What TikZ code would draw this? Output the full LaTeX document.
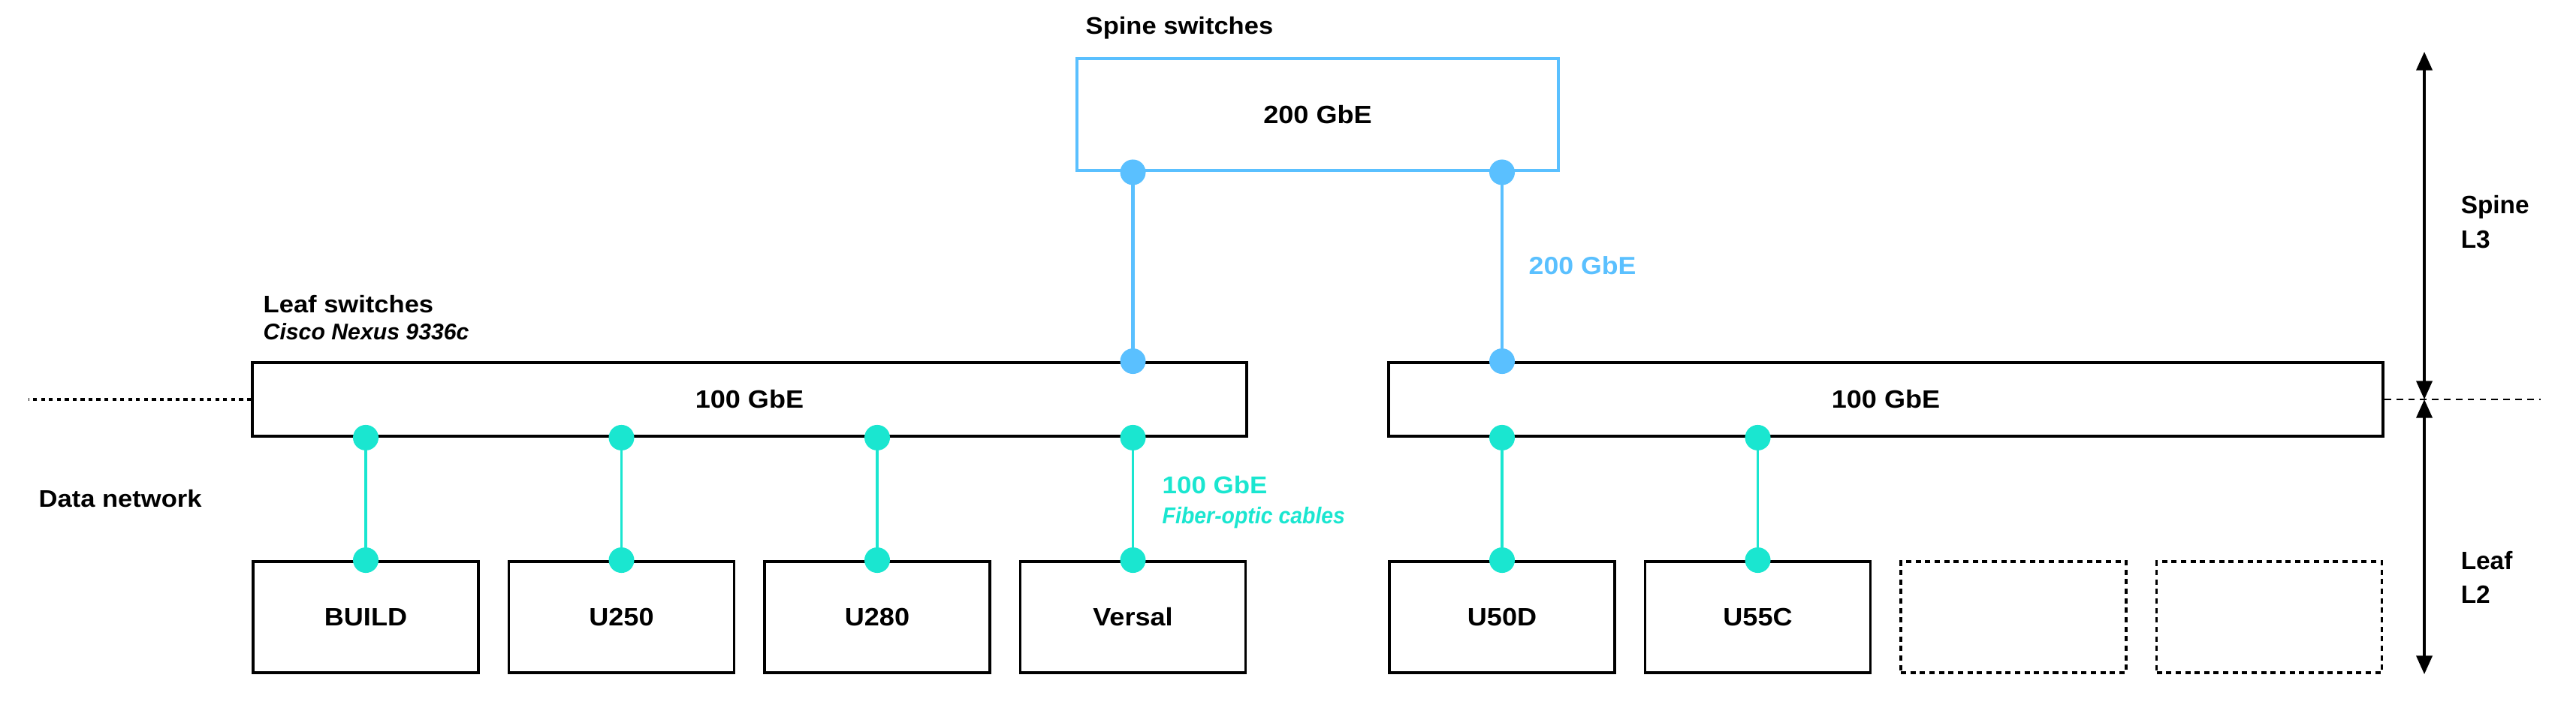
\documentclass[tikz,border=0pt]{standalone}
\usepackage{fontspec}
\setmainfont{Liberation Sans}[FakeStretch=1.08]
\newfontfamily\fiberit{Liberation Sans}[FakeStretch=0.93]
\newfontfamily\plainsans{Liberation Sans}
\usetikzlibrary{arrows.meta}
\definecolor{spineblue}{RGB}{90,192,255}
\definecolor{leafteal}{RGB}{26,230,208}

\begin{document}
\begin{tikzpicture}[
    switchbox/.style={draw, line width=1.1pt, minimum height=0.98cm, minimum width=13.24cm, inner sep=0pt, font=\fontsize{9.5}{11}\selectfont\bfseries},
    fpgabox/.style={draw, line width=1.1pt, minimum height=1.48cm, minimum width=3cm, inner sep=0pt, font=\fontsize{9.5}{11}\selectfont\bfseries},
    emptybox/.style={fpgabox, line width=0.9pt, dash pattern=on 2pt off 1.6pt},
    title/.style={anchor=base west, inner sep=0pt, font=\fontsize{9.1}{11}\selectfont\bfseries},
    bluedot/.style={circle, fill=spineblue, minimum size=0.34cm, inner sep=0pt},
    tealdot/.style={circle, fill=leafteal, minimum size=0.34cm, inner sep=0pt},
    bluewire/.style={spineblue, line width=1.4pt},
    tealwire/.style={leafteal, line width=0.9pt},
    layer/.style={line width=1pt, {Triangle[width=6pt,length=7pt]}-{Triangle[width=6pt,length=7pt]}},
    dotline/.style={line width=1pt, dash pattern=on 1.5pt off 1.5pt},
    dashline/.style={line width=0.8pt, dash pattern=on 2.5pt off 2pt}
  ]
  \useasboundingbox (0,0) rectangle (34.30,9.66);

  % switches
  \node[switchbox, draw=spineblue, line width=1.4pt, minimum width=6.41cm, minimum height=1.49cm] (spine) at (17.545,8.135) {200 GbE};
  \node[switchbox] (leafA) at (9.98,4.34) {100 GbE};
  \node[switchbox] (leafB) at (25.11,4.34) {100 GbE};

  % boards
  \foreach \name/\x/\lbl in {build/4.87/BUILD, uA/8.275/U250, uB/11.68/U280, versal/15.085/Versal, uC/20.00/U50D, uD/23.405/U55C}
    \node[fpgabox] (\name) at (\x,1.44) {\lbl};
  \node[emptybox] (spareA) at (26.81,1.44) {};
  \node[emptybox] (spareB) at (30.215,1.44) {};

  % leaf to board cables
  \foreach \leaf/\name in {leafA/build, leafA/uA, leafA/uB, leafA/versal, leafB/uC, leafB/uD} {
    \draw[tealwire] (\leaf.south -| \name.north) -- (\name.north);
    \node[tealdot] (\name-up) at (\leaf.south -| \name.north) {};
    \node[tealdot] (\name-down) at (\name.north) {};
  }

  % spine to leaf cables
  \foreach \leaf/\name in {leafA/versal, leafB/uC} {
    \draw[bluewire] (spine.south -| \name.north) -- (\leaf.north -| \name.north);
    \node[bluedot] (\name-spine) at (spine.south -| \name.north) {};
    \node[bluedot] (\name-leaf) at (\leaf.north -| \name.north) {};
  }

  % labels
  \node[title] (spinetitle) at (14.45,9.20) {Spine switches};
  \node[title] (leaftitle) at (3.50,5.50) {Leaf switches};
  \node[title, font=\plainsans\fontsize{8.6}{11}\selectfont\bfseries\itshape] (leafmodel) at (3.50,5.14) {Cisco Nexus 9336c};
  \node[title] (datanet) at (0.51,2.91) {Data network};
  \node[title, text=spineblue, font=\fontsize{9.4}{11}\selectfont\bfseries] (spinespeed) at (20.35,6.01) {200 GbE};
  \node[title, text=leafteal, font=\fontsize{9.2}{11}\selectfont\bfseries] (leafspeed) at (15.47,3.09) {100 GbE};
  \node[title, text=leafteal, font=\fiberit\fontsize{8.7}{11}\selectfont\bfseries\itshape] (leafcable) at (15.47,2.69) {Fiber-optic cables};

  % layers
  \coordinate (layertop) at (32.28,8.97);
  \coordinate (layermid) at (32.28,4.34);
  \coordinate (layerbot) at (32.28,0.68);
  \draw[layer] (layertop) -- (layermid);
  \draw[layer] (layermid) -- (layerbot);
  \coordinate (dashleft) at (0.38,4.34);
  \coordinate (dashright) at (33.83,4.34);
  \draw[dotline] (leafA.west) -- (dashleft);
  \draw[dashline] (leafB.east) -- (dashright);
  \node[title, font=\plainsans\fontsize{9.5}{11}\selectfont\bfseries] (spinelayer) at (32.76,6.82) {Spine};
  \node[title, font=\plainsans\fontsize{9.5}{11}\selectfont\bfseries] (spinelevel) at (32.76,6.36) {L3};
  \node[title, font=\plainsans\fontsize{9.5}{11}\selectfont\bfseries] (leaflayer) at (32.76,2.08) {Leaf};
  \node[title, font=\plainsans\fontsize{9.5}{11}\selectfont\bfseries] (leaflevel) at (32.76,1.63) {L2};
\end{tikzpicture}
\end{document}
